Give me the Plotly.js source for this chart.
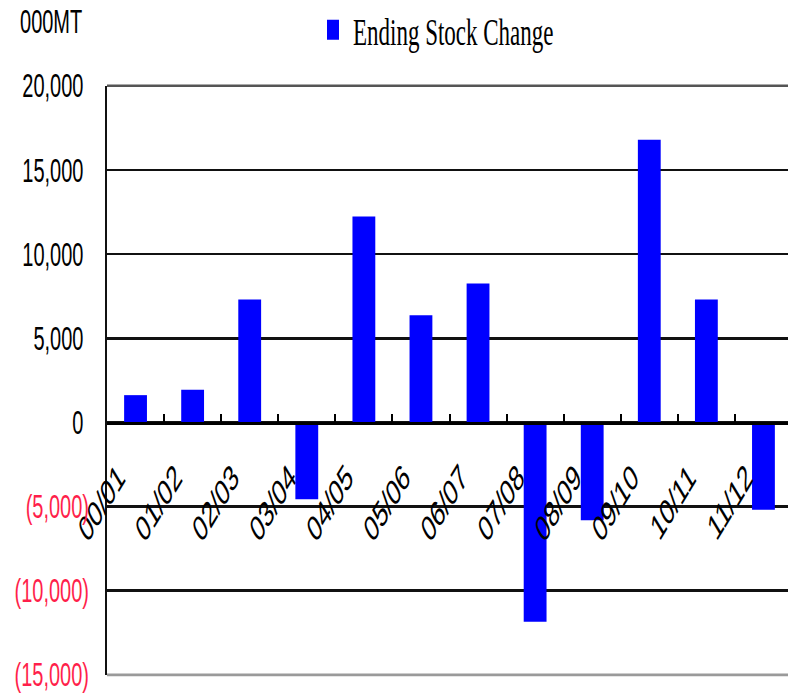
<!DOCTYPE html>
<html>
<head>
<meta charset="utf-8">
<script src="https://cdn.plot.ly/plotly-3.0.1.min.js"></script>
<style>
  html, body { margin: 0; padding: 0; background: #ffffff; overflow: hidden; }
  #wrap { width: 788px; height: 693px; overflow: hidden; }
  #chart { width: 788px; height: 420px; transform: scaleY(1.65); transform-origin: 0 0; }
</style>
</head>
<body>
<div id="wrap"><div id="chart"></div></div>
<script>
// ---- data ----
var seasons = ['00/01','01/02','02/03','03/04','04/05','05/06','06/07','07/08','08/09','09/10','10/11','11/12'];
var stockChange = [1620, 1940, 7310, -4560, 12230, 6360, 8260, -11850, -5820, 16800, 7310, -5190];
var seriesName = 'Ending Stock Change';
var unitLabel = '000MT';
var yTickVals = [20000, 15000, 10000, 5000, 0, -5000, -10000, -15000];
var yTickLabels = ['20,000', '15,000', '10,000', '5,000', '0', '(5,000)', '(10,000)', '(15,000)'];

var yTickText = yTickVals.map(function (v, i) {
  return v < 0 ? '<span style="color:#ff1f4b">' + yTickLabels[i] + '</span>'
               : yTickLabels[i] + '\u2008';
});

var trace = {
  type: 'bar',
  x: seasons,
  y: stockChange,
  name: seriesName,
  width: 0.4,
  marker: { color: '#0000ff', line: { width: 0 } },
  showlegend: true
};

var layout = {
  width: 788,
  height: 420,
  margin: { l: 107, r: 0, t: 52, b: 11, pad: 0, autoexpand: false },
  paper_bgcolor: '#ffffff',
  plot_bgcolor: '#ffffff',
  showlegend: true,
  legend: {
    orientation: 'h',
    x: 0.3025, xanchor: 'left',
    y: 1.095, yanchor: 'middle',
    font: { family: '"Liberation Serif", "Times New Roman", serif', size: 23, color: '#000' },
    itemwidth: 30,
    bgcolor: 'rgba(0,0,0,0)'
  },
  xaxis: {
    type: 'category',
    range: [-0.5, 11.43],
    anchor: 'free',
    position: 15000 / 35000,
    showline: true,
    linecolor: '#000',
    linewidth: 1.6,
    ticks: 'inside',
    tickson: 'boundaries',
    ticklen: 5,
    tickwidth: 2,
    tickcolor: '#000',
    tickangle: -45,
    ticklabelstandoff: 10,
    ticklabelshift: -17,
    tickfont: { family: '"Liberation Sans", Arial, sans-serif', size: 22, color: '#000' },
    showgrid: false,
    zeroline: false,
    fixedrange: true
  },
  yaxis: {
    range: [-15000, 20000],
    tickmode: 'array',
    tickvals: yTickVals,
    ticktext: yTickText,
    ticks: '',
    ticklabelstandoff: 12,
    tickfont: { family: '"Liberation Sans", Arial, sans-serif', size: 20, color: '#000' },
    showgrid: true,
    gridcolor: '#111',
    gridwidth: 1.6,
    zeroline: false,
    showline: true,
    linecolor: '#111',
    linewidth: 2,
    fixedrange: true
  },
  shapes: [
    { type: 'line', xref: 'paper', yref: 'paper', x0: 0, x1: 1, y0: 1, y1: 1,
      line: { color: '#555', width: 1.6 } },
    { type: 'line', xref: 'paper', yref: 'paper', x0: 0, x1: 1, y0: 0, y1: 0,
      line: { color: '#9a9a9a', width: 1.6 } }
  ],
  annotations: [
    { text: unitLabel, xref: 'paper', yref: 'paper', x: -0.1307, y: 1.1106,
      xanchor: 'left', yanchor: 'middle', showarrow: false,
      font: { family: '"Liberation Sans", Arial, sans-serif', size: 20, color: '#000' } }
  ]
};

Plotly.newPlot('chart', [trace], layout, { displayModeBar: false, staticPlot: true });
</script>
</body>
</html>
